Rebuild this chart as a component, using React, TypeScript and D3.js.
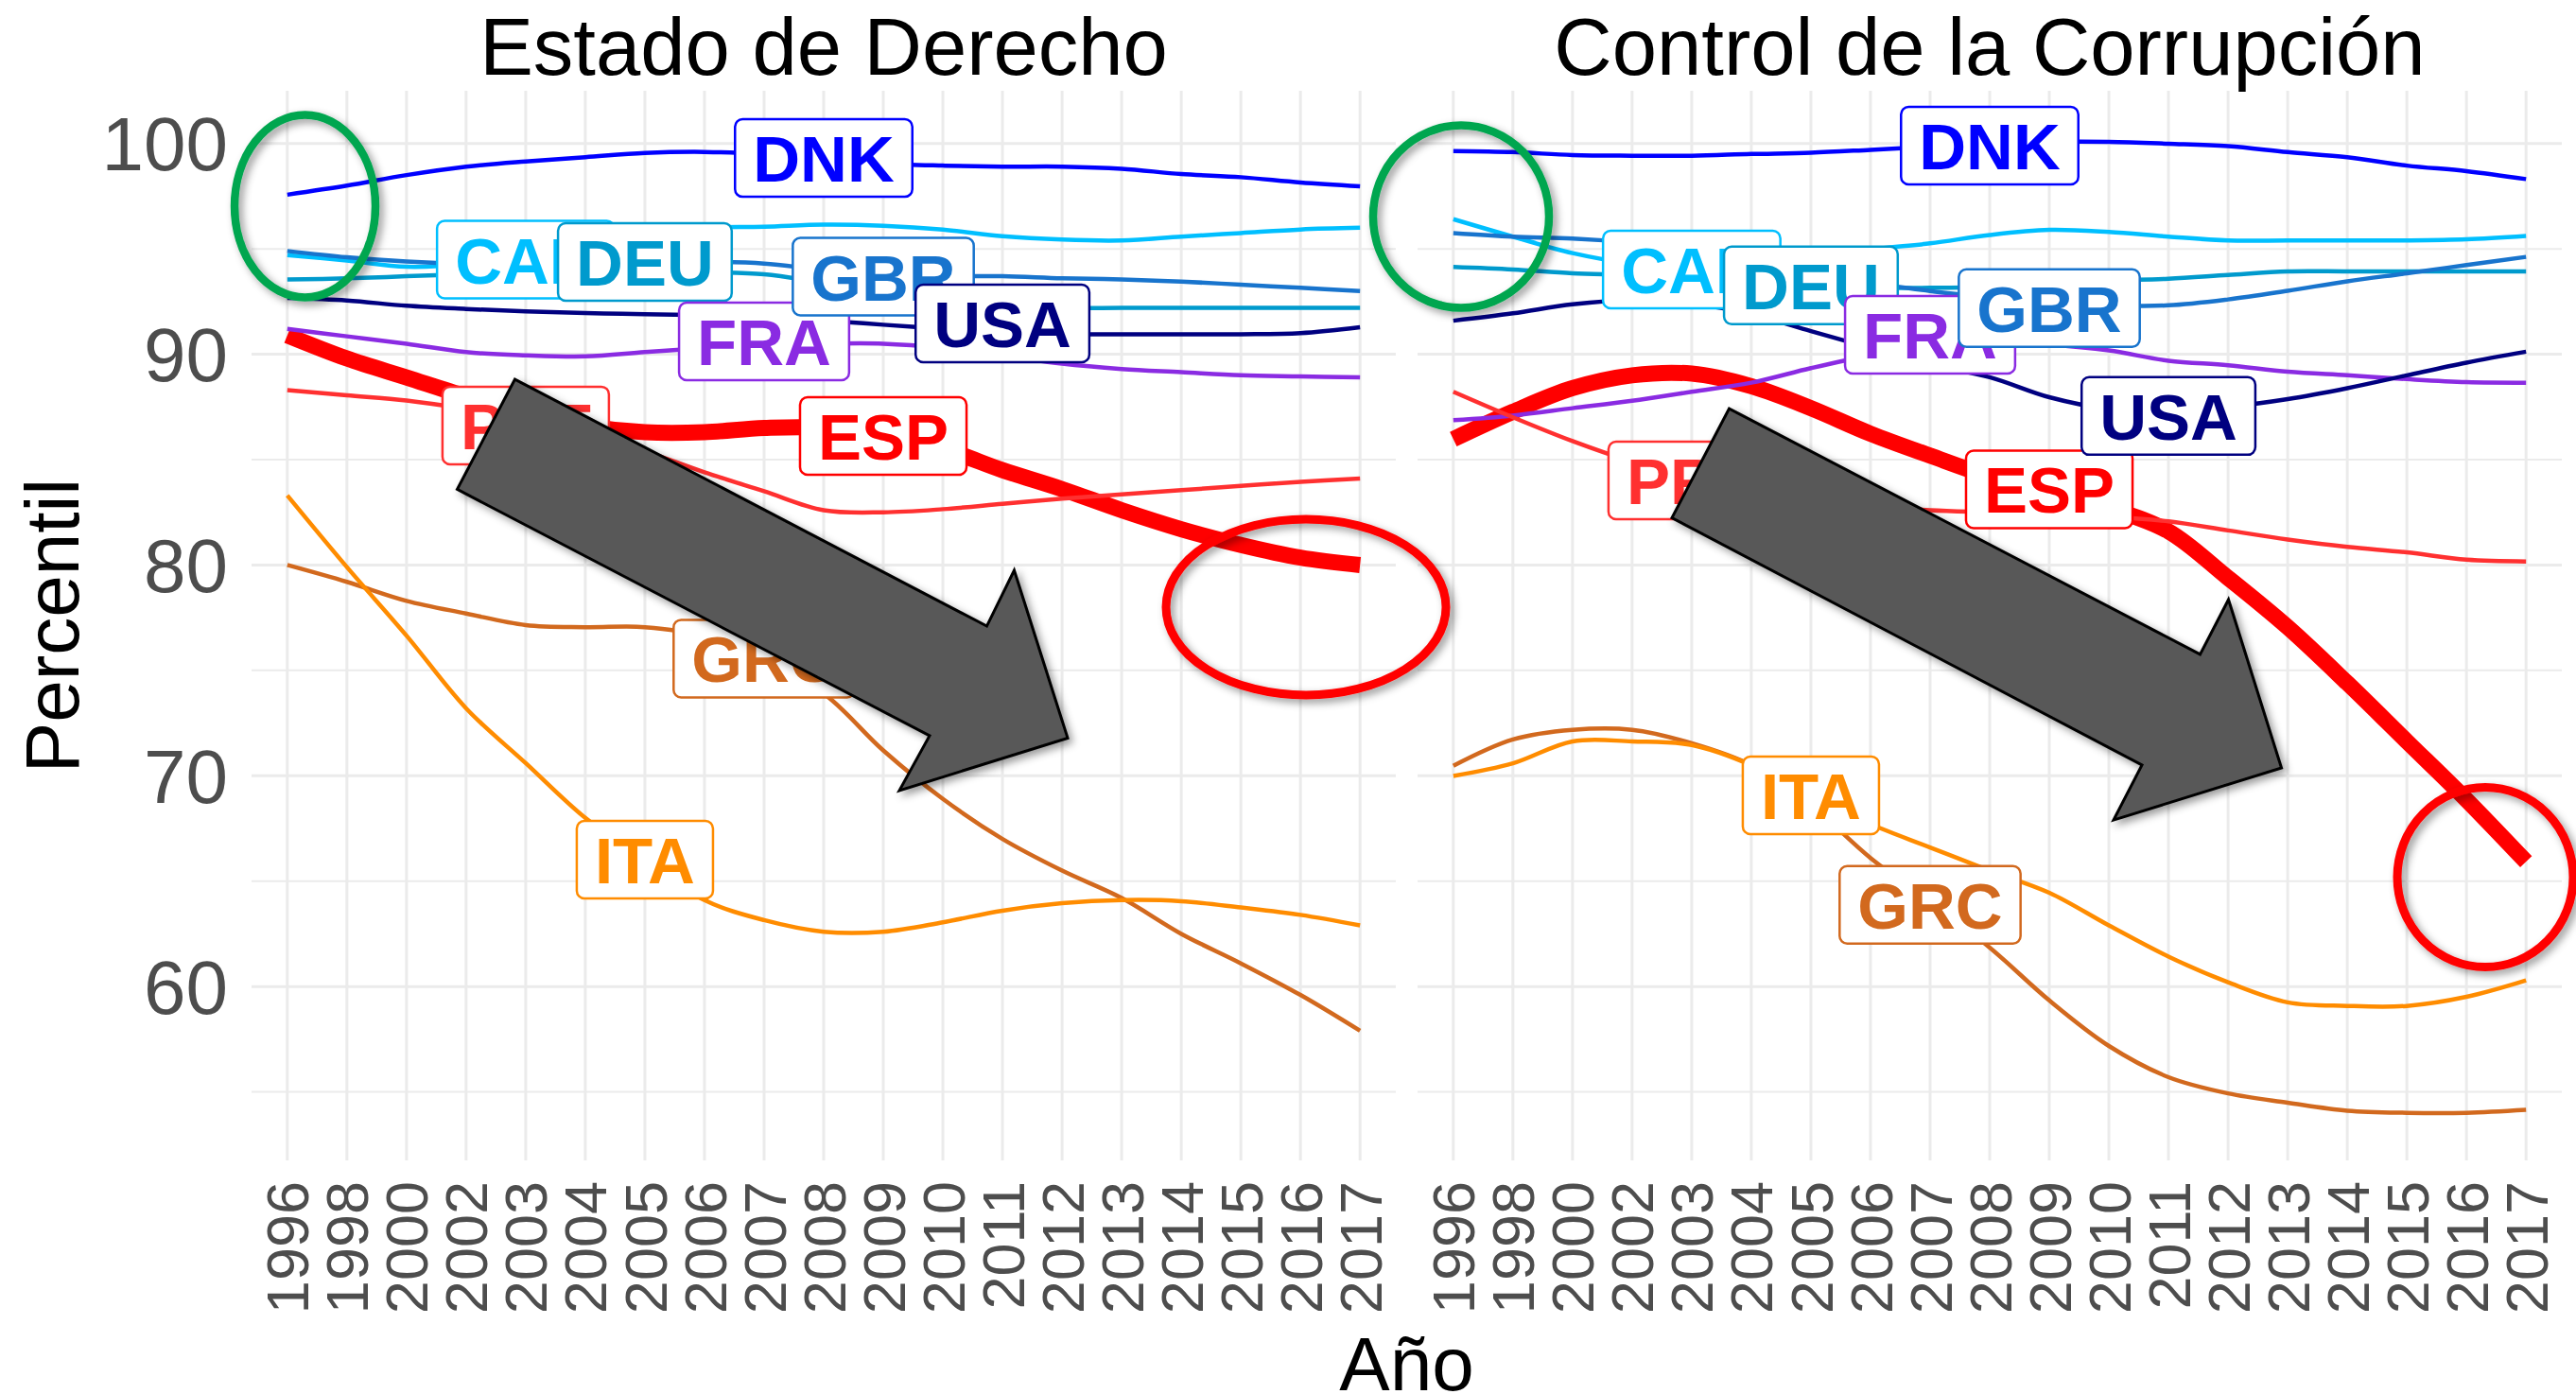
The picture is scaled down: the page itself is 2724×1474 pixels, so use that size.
import { useEffect, useRef } from 'react';
import * as d3 from 'd3';

// Categories
const years = ['1996', '1998', '2000', '2002', '2003', '2004', '2005', '2006', '2007', '2008', '2009', '2010', '2011', '2012', '2013', '2014', '2015', '2016', '2017'];
const countries = ['CAN', 'DEU', 'DNK', 'ESP', 'FRA', 'GBR', 'GRC', 'ITA', 'PRT', 'USA'];
const countryColors = ['#00BFFF', '#009ACD', '#0000FF', '#FF0000', '#8A2BE2', '#1874CD', '#D2691E', '#FF8C00', '#FF3030', '#000080'];
const panelTitles = ['Estado de Derecho', 'Control de la Corrupción'];
const yTicks = [60, 70, 80, 90, 100];
const yMinorTicks = [55, 65, 75, 85, 95];

// Estado de Derecho (percentil)
const derechoCAN = [94.7, 94.45, 94.15, 94.3, 94.8, 95.4, 95.8, 96.0, 96.05, 96.15, 96.1, 95.92, 95.6, 95.44, 95.4, 95.58, 95.75, 95.92, 96.0];
const derechoDEU = [93.55, 93.6, 93.7, 93.8, 93.9, 94.0, 94.0, 93.9, 93.8, 93.4, 93.0, 92.6, 92.3, 92.2, 92.2, 92.2, 92.2, 92.2, 92.2];
const derechoDNK = [97.57, 98.0, 98.5, 98.9, 99.15, 99.35, 99.55, 99.6, 99.5, 99.3, 99.05, 98.95, 98.9, 98.9, 98.8, 98.55, 98.4, 98.15, 97.97];
const derechoESP = [90.9, 89.8, 88.9, 88.0, 87.2, 86.6, 86.3, 86.3, 86.5, 86.5, 86.0, 85.5, 84.5, 83.6, 82.6, 81.7, 80.95, 80.35, 80.0];
const derechoFRA = [91.2, 90.85, 90.5, 90.1, 89.95, 89.9, 90.1, 90.3, 90.45, 90.5, 90.5, 90.3, 89.95, 89.55, 89.3, 89.15, 89.0, 88.95, 88.9];
const derechoGBR = [94.9, 94.6, 94.4, 94.3, 94.3, 94.3, 94.4, 94.4, 94.3, 94.0, 93.8, 93.7, 93.7, 93.6, 93.55, 93.45, 93.3, 93.15, 93.0];
const derechoGRC = [80.0, 79.2, 78.3, 77.7, 77.15, 77.05, 77.05, 76.6, 75.4, 73.9, 71.2, 68.9, 67.0, 65.5, 64.2, 62.5, 61.1, 59.6, 57.9];
const derechoITA = [83.3, 79.9, 76.65, 73.2, 70.6, 68.0, 66.0, 64.1, 63.15, 62.6, 62.6, 63.05, 63.6, 63.95, 64.1, 64.05, 63.75, 63.4, 62.9];
const derechoPRT = [88.3, 88.05, 87.8, 87.4, 86.9, 86.2, 85.4, 84.4, 83.5, 82.6, 82.5, 82.65, 82.9, 83.15, 83.35, 83.55, 83.75, 83.95, 84.1];
const derechoUSA = [92.67, 92.55, 92.3, 92.15, 92.03, 91.95, 91.9, 91.85, 91.75, 91.6, 91.4, 91.2, 91.0, 90.95, 90.95, 90.95, 90.95, 91.0, 91.28];

// Control de la Corrupción (percentil)
const corrupcionCAN = [96.41, 95.58, 94.8, 94.3, 94.1, 94.2, 94.5, 94.97, 95.26, 95.66, 95.9, 95.8, 95.58, 95.4, 95.4, 95.4, 95.4, 95.45, 95.61];
const corrupcionDEU = [94.14, 94.02, 93.84, 93.76, 93.6, 93.4, 93.25, 93.15, 93.15, 93.2, 93.35, 93.5, 93.58, 93.76, 93.93, 93.93, 93.93, 93.93, 93.93];
const corrupcionDNK = [99.64, 99.59, 99.45, 99.42, 99.42, 99.5, 99.56, 99.7, 99.85, 100.0, 100.08, 100.08, 99.99, 99.87, 99.59, 99.35, 98.95, 98.69, 98.31];
const corrupcionESP = [85.97, 87.27, 88.39, 89.0, 89.08, 88.48, 87.44, 86.23, 85.19, 84.2, 83.45, 82.7, 81.6, 79.39, 77.05, 74.4, 71.63, 68.86, 65.92];
const corrupcionFRA = [86.87, 87.09, 87.44, 87.79, 88.22, 88.65, 89.34, 89.95, 90.4, 90.55, 90.45, 90.18, 89.69, 89.48, 89.17, 89.0, 88.82, 88.68, 88.65];
const corrupcionGBR = [95.75, 95.58, 95.49, 95.3, 95.0, 94.5, 94.0, 93.4, 93.0, 92.7, 92.45, 92.32, 92.32, 92.6, 93.01, 93.46, 93.84, 94.23, 94.62];
const corrupcionGRC = [70.47, 71.72, 72.18, 72.18, 71.54, 70.5, 68.6, 66.1, 64.0, 61.85, 59.34, 57.18, 55.7, 54.93, 54.49, 54.11, 54.01, 54.01, 54.15];
const corrupcionITA = [69.99, 70.59, 71.63, 71.63, 71.46, 70.5, 69.0, 67.7, 66.6, 65.5, 64.45, 62.9, 61.42, 60.2, 59.25, 59.08, 59.08, 59.51, 60.29];
const corrupcionPRT = [88.22, 87.01, 85.88, 84.9, 84.1, 83.5, 83.1, 82.8, 82.6, 82.5, 82.4, 82.3, 82.07, 81.64, 81.21, 80.86, 80.6, 80.25, 80.17];
const corrupcionUSA = [91.59, 91.94, 92.37, 92.56, 92.4, 91.9, 91.1, 90.3, 89.5, 88.91, 87.96, 87.4, 87.3, 87.5, 87.87, 88.39, 89.0, 89.6, 90.12];

// Where each country label sits (year, percentil), same order as countries
const labelYears = ['2003', '2005', '2008', '2009', '2007', '2009', '2007', '2005', '2003', '2011'];
const derechoLabelValues = [94.49, 94.38, 99.31, 86.12, 90.61, 93.68, 75.56, 66.02, 86.62, 91.46];
const corrupcionLabelValues = [94.02, 93.27, 99.9, 83.59, 90.92, 92.19, 63.88, 69.07, 84.01, 87.07];

// Annotations in data space: [year index, percentil]
const derechoArrow = [[3.819, 88.81], [11.737, 77.1], [12.197, 79.75], [13.094, 71.79], [10.27, 69.3], [10.777, 71.9], [2.851, 83.59]];
const corrupcionArrow = [[4.629, 87.42], [12.531, 75.76], [13.007, 78.36], [13.896, 70.37], [11.079, 67.9], [11.555, 70.51], [3.668, 82.24]];
const greenRings = [[0.297, 97.03], [0.13, 96.53]];
const redRings = [[17.093, 78.0], [17.315, 65.19]];

const W = 2724;
const H = 1474;
const FONT = "'Liberation Sans', Arial, Helvetica, sans-serif";

export default function App() {
    const svgRef = useRef<SVGSVGElement | null>(null);

    useEffect(() => {
        if (!svgRef.current) return;
        document.body.style.margin = '0';
        const svg = d3.select(svgRef.current);
        svg.selectAll('*').remove();

        const panelTop = 96;
        const panelH = 1131;
        const panelW = 1210;
        const panelLefts = [266, 1499];

        const y = d3.scaleLinear().domain([51.75, 102.5]).range([panelTop + panelH, panelTop]);

        const defs = svg.append('defs');
        const shadow = defs.append('filter').attr('id', 'shade')
            .attr('x', '-20%').attr('y', '-20%').attr('width', '140%').attr('height', '140%');
        shadow.append('feDropShadow').attr('dx', 4).attr('dy', 4).attr('stdDeviation', 4)
            .attr('flood-color', '#000').attr('flood-opacity', 0.4);

        svg.append('rect').attr('width', W).attr('height', H).attr('fill', '#fff');

        const seriesSets = [
            [derechoCAN, derechoDEU, derechoDNK, derechoESP, derechoFRA, derechoGBR, derechoGRC, derechoITA, derechoPRT, derechoUSA],
            [corrupcionCAN, corrupcionDEU, corrupcionDNK, corrupcionESP, corrupcionFRA, corrupcionGBR, corrupcionGRC, corrupcionITA, corrupcionPRT, corrupcionUSA],
        ];
        const labelSets = [derechoLabelValues, corrupcionLabelValues];
        const arrows = [derechoArrow, corrupcionArrow];

        const xScales: d3.ScalePoint<string>[] = [];

        panelLefts.forEach((left, p) => {
            const x = d3.scalePoint<string>().domain(years).range([left, left + panelW]).padding(0.6);
            xScales.push(x);
            const g = svg.append('g');

            // grid
            g.selectAll('line.minor').data(yMinorTicks).join('line')
                .attr('x1', left).attr('x2', left + panelW)
                .attr('y1', d => y(d)).attr('y2', d => y(d))
                .attr('stroke', '#EBEBEB').attr('stroke-width', 2);
            g.selectAll('line.major').data(yTicks).join('line')
                .attr('x1', left).attr('x2', left + panelW)
                .attr('y1', d => y(d)).attr('y2', d => y(d))
                .attr('stroke', '#EBEBEB').attr('stroke-width', 3);
            g.selectAll('line.vgrid').data(years).join('line')
                .attr('x1', d => x(d)!).attr('x2', d => x(d)!)
                .attr('y1', panelTop).attr('y2', panelTop + panelH)
                .attr('stroke', '#EBEBEB').attr('stroke-width', 3);

            // title
            svg.append('text')
                .attr('x', left + panelW / 2).attr('y', 79)
                .attr('text-anchor', 'middle')
                .attr('font-family', FONT).attr('font-size', 85).attr('fill', '#000')
                .text(panelTitles[p]);

            // x axis
            const xAxis = svg.append('g')
                .attr('transform', `translate(0,${panelTop + panelH})`)
                .call(d3.axisBottom(x).tickSize(0));
            xAxis.select('.domain').remove();
            xAxis.selectAll('text')
                .attr('font-family', FONT).attr('font-size', 63).attr('fill', '#4D4D4D')
                .attr('transform', 'rotate(-90)')
                .attr('x', -22).attr('y', 0).attr('dy', '0.35em')
                .attr('text-anchor', 'end');

            if (p === 0) {
                const yAxis = svg.append('g')
                    .attr('transform', `translate(${left},0)`)
                    .call(d3.axisLeft(y).tickValues(yTicks).tickSize(0).tickPadding(25));
                yAxis.select('.domain').remove();
                yAxis.selectAll('text')
                    .attr('font-family', FONT).attr('font-size', 80).attr('fill', '#4D4D4D')
                    .attr('dy', '0.35em');
            }

            // lines
            const line = d3.line<number>()
                .x((_, i) => x(years[i])!)
                .y(d => y(d))
                .curve(d3.curveCatmullRom.alpha(0.5));
            seriesSets[p].forEach((vals, c) => {
                g.append('path')
                    .attr('d', line(vals)!)
                    .attr('fill', 'none')
                    .attr('stroke', countryColors[c])
                    .attr('stroke-width', countries[c] === 'ESP' ? 17 : 4.5)
                    .attr('stroke-linecap', 'butt')
                    .attr('stroke-linejoin', 'round');
            });

            // labels
            countries.forEach((name, c) => {
                const lg = g.append('g')
                    .attr('transform', `translate(${x(labelYears[c])},${y(labelSets[p][c])})`);
                const rect = lg.append('rect');
                const t = lg.append('text')
                    .attr('text-anchor', 'middle')
                    .attr('y', 25)
                    .attr('font-family', FONT).attr('font-weight', 'bold').attr('font-size', 69)
                    .attr('fill', countryColors[c])
                    .text(name);
                const tw = (t.node() as SVGTextElement).getComputedTextLength();
                const bw = tw + 38;
                rect.attr('x', -bw / 2).attr('y', -41).attr('width', bw).attr('height', 82)
                    .attr('rx', 8).attr('ry', 8)
                    .attr('fill', '#fff').attr('stroke', countryColors[c]).attr('stroke-width', 2.5);
            });
        });

        // axis titles
        svg.append('text')
            .attr('x', (panelLefts[0] + panelLefts[1] + panelW) / 2).attr('y', 1470)
            .attr('text-anchor', 'middle')
            .attr('font-family', FONT).attr('font-size', 80).attr('fill', '#000')
            .text('Año');
        svg.append('text')
            .attr('transform', `translate(83,${panelTop + panelH / 2}) rotate(-90)`)
            .attr('text-anchor', 'middle')
            .attr('font-family', FONT).attr('font-size', 80).attr('fill', '#000')
            .text('Percentil');

        // annotations
        const xAt = (p: number, i: number) => xScales[p](years[0])! + i * xScales[p].step();
        const ann = svg.append('g');
        arrows.forEach((pts, p) => {
            ann.append('polygon')
                .attr('points', pts.map(([i, v]) => `${xAt(p, i)},${y(v)}`).join(' '))
                .attr('fill', '#595959').attr('stroke', '#000').attr('stroke-width', 3)
                .attr('stroke-linejoin', 'miter')
                .attr('filter', 'url(#shade)');
        });
        greenRings.forEach(([i, v], p) => {
            ann.append('ellipse')
                .attr('cx', xAt(p, i)).attr('cy', y(v))
                .attr('rx', p === 0 ? 74.5 : 93).attr('ry', 96.5)
                .attr('fill', 'none').attr('stroke', '#00A650').attr('stroke-width', 8.5)
                .attr('filter', 'url(#shade)');
        });
        redRings.forEach(([i, v], p) => {
            ann.append('ellipse')
                .attr('cx', xAt(p, i)).attr('cy', y(v))
                .attr('rx', p === 0 ? 148 : 93).attr('ry', p === 0 ? 93 : 95)
                .attr('fill', 'none').attr('stroke', '#FF0000').attr('stroke-width', 9)
                .attr('filter', 'url(#shade)');
        });

        return () => { svg.selectAll('*').remove(); };
    }, []);

    return <svg ref={svgRef} width={W} height={H} style={{ display: 'block' }}></svg>;
}
